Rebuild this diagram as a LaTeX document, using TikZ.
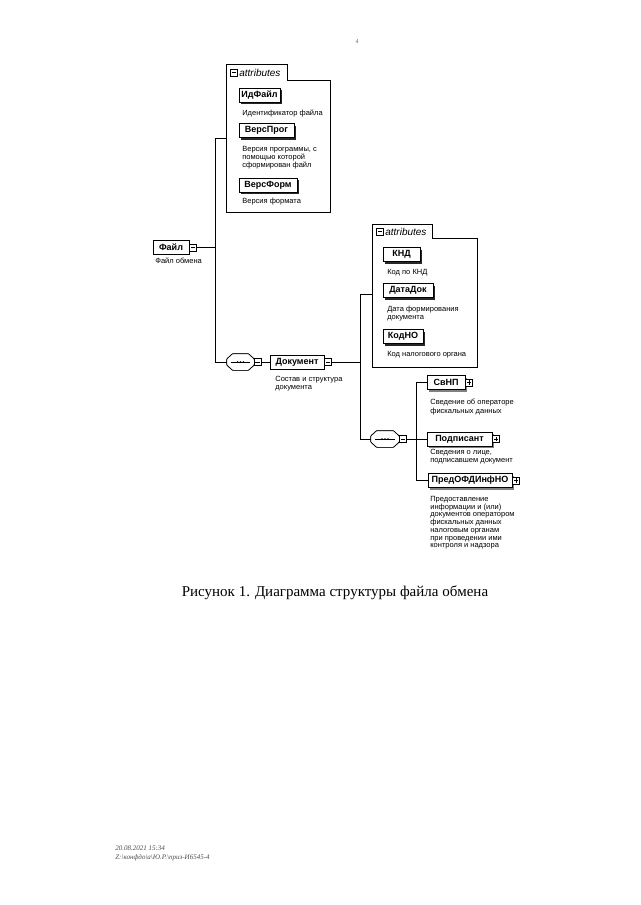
\documentclass[tikz,border=0pt]{standalone}
\usepackage{fontspec}
\setmainfont{Liberation Sans}
\newfontfamily\serif{Liberation Serif}
\usetikzlibrary{shadows}
\begin{document}
\begin{tikzpicture}[x=1pt,y=-1pt,line width=0.7pt,
  elem/.style={draw,fill=white,inner sep=0pt,minimum height=14pt,
    font=\fontsize{9}{10}\bfseries\selectfont},
  attrel/.style={elem,drop shadow={shadow xshift=2pt,shadow yshift=-2pt,fill=black!85,opacity=1}},
  childel/.style={elem,drop shadow={shadow xshift=2pt,shadow yshift=-2pt,fill=black!50,opacity=1}},
  desc/.style={anchor=north west,inner sep=0pt,align=left,
    font=\fontsize{7.5}{8.2}\selectfont},
  minusicon/.style={draw,fill=white,inner sep=0pt,minimum size=7pt,line width=0.5pt,
    path picture={\draw ([xshift=1.3pt]path picture bounding box.west) -- ([xshift=-1.3pt]path picture bounding box.east);}},
  plusicon/.style={draw,fill=white,inner sep=0pt,minimum size=7pt,line width=0.5pt,
    path picture={\draw ([xshift=1.3pt]path picture bounding box.west) -- ([xshift=-1.3pt]path picture bounding box.east);
      \draw ([yshift=-1.3pt]path picture bounding box.north) -- ([yshift=1.3pt]path picture bounding box.south);}},
  seqbox/.style={inner sep=0pt,minimum width=27pt,minimum height=16pt},
  tabtext/.style={anchor=west,inner sep=0pt,font=\fontsize{10}{11}\itshape\selectfont},
  frame/.style={inner sep=0pt,anchor=north west}
]
\useasboundingbox (0,0) rectangle (640,905);

% page number
\node[font=\serif\fontsize{6}{7}\selectfont,text=black!60] (pg) at (357,42) {4};

% root element
\node[elem,minimum width=36pt] (file) at (171,247.5) {Файл};
\node[minusicon] (fileic) at (193,247.5) {};
\node[desc] (filed) at (155,258) {Файл обмена};

% attributes of Файл
\node[frame,minimum width=104pt,minimum height=132pt] (attr1) at (226,80) {};
\node[inner sep=0pt,anchor=south west,minimum width=61pt,minimum height=15pt] (tab1) at (attr1.north west) {};
\draw (attr1.south west) -- (tab1.north west) -- (tab1.north east) -- (tab1.south east)
  -- (attr1.north east) -- (attr1.south east) -- cycle;
\node[minusicon] (tab1ic) at (234,72.5) {};
\node[tabtext] (tab1t) at (239,72.5) {attributes};

\node[attrel,minimum width=41pt] (idf) at (259.5,95) {ИдФайл};
\node[desc] (idfd) at (242,110) {Идентификатор файла};
\node[attrel,minimum width=55pt] (vprog) at (266.5,130.5) {ВерсПрог};
\node[desc] (vprogd) at (242,146) {Версия программы, с\\помощью которой\\сформирован файл};
\node[attrel,minimum width=58pt] (vform) at (268,185) {ВерсФорм};
\node[desc] (vformd) at (242,198) {Версия формата};

% bus 1
\coordinate (b1t) at (215,138);
\coordinate (b1b) at (215,362);
\draw (fileic.east) -- (fileic.east -| b1t);
\draw (b1t) -- (b1b);
\draw (b1t) -- (b1t -| attr1.west);

% sequence 1
\node[seqbox] (seq1) at (240.5,362) {};
\foreach \dx/\col in {1.5/black!60,0/white}{
\draw[fill=\col,rounded corners=0.8pt,shift={(\dx,\dx)}]
  ([xshift=6pt]seq1.north west) -- ([xshift=-6pt]seq1.north east)
  -- ([yshift=-5.5pt]seq1.north east) -- ([yshift=5.5pt]seq1.south east)
  -- ([xshift=-6pt]seq1.south east) -- ([xshift=6pt]seq1.south west)
  -- ([yshift=5.5pt]seq1.south west) -- ([yshift=-5.5pt]seq1.north west) -- cycle;}
\draw[line width=0.6pt] ([xshift=4pt]seq1.west) -- ([xshift=-4pt]seq1.east);
\foreach \d in {-3,0,3} \fill ([xshift=\d pt]seq1.center) circle (1pt);
\node[minusicon] (seq1ic) at (257.5,362) {};
\draw (b1b) -- (seq1.west);

% Документ
\node[elem,minimum width=54pt] (doc) at (297,362) {Документ};
\node[minusicon] (docic) at (328,362) {};
\node[desc] (docd) at (275,376) {Состав и структура\\документа};
\draw (seq1ic.east) -- (doc.west);

% bus 2
\coordinate (b2t) at (360,294);
\coordinate (b2b) at (360,439);
\draw (docic.east) -- (docic.east -| b2t);
\draw (b2t) -- (b2b);

% attributes of Документ
\node[frame,minimum width=105pt,minimum height=129pt] (attr2) at (372,238) {};
\node[inner sep=0pt,anchor=south west,minimum width=60pt,minimum height=13pt] (tab2) at (attr2.north west) {};
\draw (attr2.south west) -- (tab2.north west) -- (tab2.north east) -- (tab2.south east)
  -- (attr2.north east) -- (attr2.south east) -- cycle;
\node[minusicon] (tab2ic) at (380,231.5) {};
\node[tabtext] (tab2t) at (385,231.5) {attributes};
\draw (b2t) -- (b2t -| attr2.west);

\node[attrel,minimum width=37pt] (knd) at (401.5,254.5) {КНД};
\node[desc] (kndd) at (387,269) {Код по КНД};
\node[attrel,minimum width=50pt] (datadok) at (408,290.5) {ДатаДок};
\node[desc] (datadokd) at (387,306) {Дата формирования\\документа};
\node[attrel,minimum width=40pt] (kodno) at (403,336.5) {КодНО};
\node[desc] (kodnod) at (387,351) {Код налогового органа};

% sequence 2
\node[seqbox,minimum width=28pt] (seq2) at (385,439) {};
\foreach \dx/\col in {1.5/black!60,0/white}{
\draw[fill=\col,rounded corners=0.8pt,shift={(\dx,\dx)}]
  ([xshift=6pt]seq2.north west) -- ([xshift=-6pt]seq2.north east)
  -- ([yshift=-5.5pt]seq2.north east) -- ([yshift=5.5pt]seq2.south east)
  -- ([xshift=-6pt]seq2.south east) -- ([xshift=6pt]seq2.south west)
  -- ([yshift=5.5pt]seq2.south west) -- ([yshift=-5.5pt]seq2.north west) -- cycle;}
\draw[line width=0.6pt] ([xshift=4pt]seq2.west) -- ([xshift=-4pt]seq2.east);
\foreach \d in {-3,0,3} \fill ([xshift=\d pt]seq2.center) circle (1pt);
\node[minusicon] (seq2ic) at (403,439) {};
\draw (b2b) -- (seq2.west);

% children of sequence 2
\node[childel,minimum width=38pt] (svnp) at (446,382.5) {СвНП};
\node[plusicon] (svnpic) at (469,382.5) {};
\node[desc] (svnpd) at (430,399) {Сведение об операторе\\фискальных данных};

\node[childel,minimum width=65pt] (podp) at (459.5,439) {Подписант};
\node[plusicon] (podpic) at (496,439) {};
\node[desc] (podpd) at (430,449) {Сведения о лице,\\подписавшем документ};

\node[childel,minimum width=84pt] (pred) at (470,480.5) {ПредОФДИнфНО};
\node[plusicon] (predic) at (516,480.5) {};
\node[desc,font=\fontsize{7.5}{7.7}\selectfont] (predd) at (430,496) {Предоставление\\информации и (или)\\документов оператором\\фискальных данных\\налоговым органам\\при проведении ими\\контроля и надзора};

\coordinate (b3t) at (416,382.5);
\coordinate (b3b) at (416,480.5);
\draw (b3t) -- (b3b);
\draw (b3t) -- (svnp.west);
\draw (b3b) -- (pred.west);
\draw (seq2ic.east) -- (podp.west);

% caption
\node[font=\serif\fontsize{15}{17}\selectfont] (cap) at (335,593) {Рисунок 1. Диаграмма структуры файла обмена};

% footer
\node[anchor=west,inner sep=0pt,font=\serif\itshape\fontsize{7}{8}\selectfont,text=black!70] (foot1) at (115,848) {20.08.2021 15:34};
\node[anchor=west,inner sep=0pt,font=\serif\itshape\fontsize{7}{8}\selectfont,text=black!70] (foot2) at (115,858) {Z:\textbackslash конфдо\textbackslash а\textbackslash Ю.Р.\textbackslash приз-И6545-4};
\end{tikzpicture}
\end{document}
